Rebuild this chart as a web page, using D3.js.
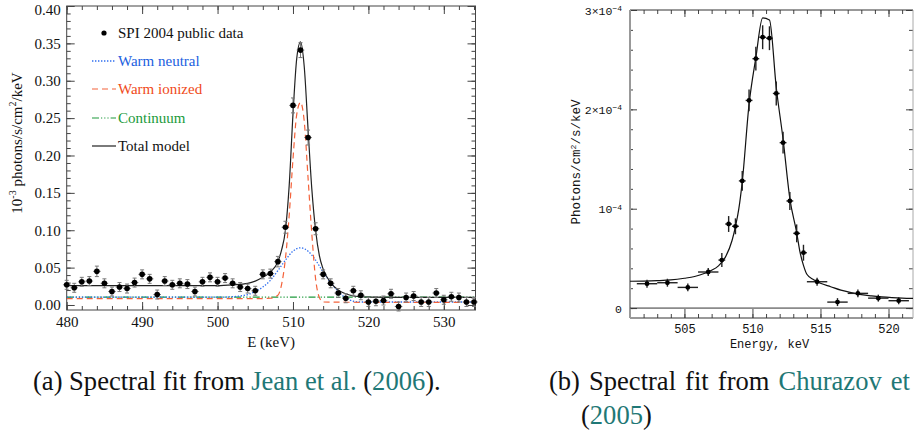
<!DOCTYPE html>
<html lang="en">
<head>
<meta charset="UTF-8">
<title>Spectral fits</title>
<script src="https://d3js.org/d3.v7.min.js"></script>
<style>
    body { margin: 0; background: #fff; }
    svg { display: block; }
    .serif text, text.serif { font-family: "Liberation Serif", "Times New Roman", serif; }
    .mono text, text.mono { font-family: "Liberation Mono", "Courier New", monospace; }
</style>
</head>
<body>
<svg width="914" height="434"></svg>
<script>
    // ---- panel (a): SPI 2004 public data (10^-3 photons/s/cm2/keV)
    const speE = [480, 481, 482, 483, 484, 485, 486, 487, 488, 489, 490, 491, 492, 493, 494, 495, 496, 497, 498, 499,
        500, 501, 502, 503, 504, 505, 506, 507, 508, 509, 510, 511, 512, 513, 514, 515, 516, 517, 518, 519,
        520, 521, 522, 523, 524, 525, 526, 527, 528, 529, 530, 531, 532, 533, 534];
    const speFlux = [0.027, 0.023, 0.031, 0.032, 0.045, 0.029, 0.018, 0.024, 0.022, 0.030, 0.041, 0.035, 0.014, 0.032, 0.027, 0.029, 0.028, 0.018, 0.031, 0.037,
        0.031, 0.036, 0.029, 0.024, 0.022, 0.019, 0.041, 0.042, 0.058, 0.104, 0.267, 0.341, 0.224, 0.102, 0.041, 0.029, 0.016, 0.009, 0.019, 0.013,
        0.004, 0.005, 0.006, 0.015, -0.002, 0.010, 0.012, 0.004, 0.004, 0.016, 0.007, 0.011, 0.010, 0.004, 0.004];
    const speErr = [0.006, 0.006, 0.006, 0.006, 0.007, 0.006, 0.006, 0.006, 0.006, 0.006, 0.006, 0.006, 0.006, 0.006, 0.006, 0.006, 0.006, 0.006, 0.006, 0.006,
        0.006, 0.006, 0.006, 0.006, 0.006, 0.006, 0.006, 0.006, 0.007, 0.008, 0.010, 0.010, 0.010, 0.008, 0.006, 0.006, 0.006, 0.006, 0.006, 0.006,
        0.006, 0.006, 0.006, 0.006, 0.006, 0.006, 0.006, 0.006, 0.006, 0.006, 0.006, 0.006, 0.006, 0.006, 0.006];

    // model components
    const totalE = [480, 490, 500, 502, 504, 505, 506, 507, 508, 508.5, 509, 509.5, 510, 510.5, 511, 511.5, 512, 512.5, 513, 513.5, 514, 515, 516, 517, 518, 519, 520, 525, 534.2];
    const totalV = [0.026, 0.026, 0.026, 0.027, 0.029, 0.032, 0.037, 0.044, 0.058, 0.074, 0.100, 0.160, 0.255, 0.330, 0.352, 0.318, 0.235, 0.155, 0.100, 0.066, 0.048, 0.030, 0.020, 0.015, 0.012, 0.011, 0.0105, 0.0102, 0.0102];
    const neutralE = [480, 500, 502, 503, 504, 505, 506, 507, 508, 509, 510, 511, 512, 513, 514, 515, 516, 517, 518, 519, 534.2];
    const neutralV = [0.0105, 0.0105, 0.011, 0.012, 0.014, 0.018, 0.024, 0.033, 0.046, 0.060, 0.072, 0.0765, 0.072, 0.060, 0.044, 0.030, 0.018, 0.0095, 0.005, 0.004, 0.004];
    const ionizedE = [480, 505, 507, 508, 508.5, 509, 509.5, 510, 510.5, 511, 511.5, 512, 512.5, 513, 513.5, 514, 520, 534.2];
    const ionizedV = [0.0085, 0.0085, 0.009, 0.013, 0.028, 0.062, 0.120, 0.195, 0.255, 0.271, 0.245, 0.170, 0.095, 0.035, 0.010, 0.004, 0.0036, 0.0036];
    const contE = [480, 534.2];
    const contV = [0.0105, 0.0105];

    const legendItems = ["SPI 2004 public data", "Warm neutral", "Warm ionized", "Continuum", "Total model"];
    const leftXTicks = [480, 490, 500, 510, 520, 530];
    const leftYTicks = [0, 0.05, 0.10, 0.15, 0.20, 0.25, 0.30, 0.35, 0.40];

    // ---- panel (b): Churazov et al. (units of 1e-4 photons/cm2/s/keV)
    const chE = [502.25, 503.75, 505.25, 506.75, 507.75, 508.25, 508.75, 509.25, 509.75, 510.25, 510.75, 511.25,
        511.75, 512.25, 512.75, 513.25, 513.75, 514.75, 516.25, 517.75, 519.25, 520.75];
    const chHalfW = [0.75, 0.75, 0.75, 0.75, 0.25, 0.25, 0.25, 0.25, 0.25, 0.25, 0.25, 0.25,
        0.25, 0.25, 0.25, 0.25, 0.25, 0.75, 0.75, 0.75, 0.75, 0.75];
    const chFlux = [0.245, 0.255, 0.208, 0.363, 0.483, 0.846, 0.823, 1.28, 2.09, 2.51, 2.726, 2.716,
        2.16, 1.665, 1.078, 0.752, 0.557, 0.265, 0.06, 0.148, 0.10, 0.074];
    const chErr = [0.04, 0.04, 0.04, 0.04, 0.07, 0.08, 0.08, 0.10, 0.11, 0.12, 0.12, 0.12,
        0.12, 0.11, 0.09, 0.09, 0.08, 0.04, 0.04, 0.04, 0.035, 0.035];
    const chModelE = [501, 502, 503, 504, 505, 505.75, 506.5, 507, 507.5, 508, 508.5, 508.75, 509, 509.25, 509.75, 510.25, 510.75,
        511.25, 511.75, 512.25, 512.75, 513.25, 513.5, 513.75, 514, 514.5, 515, 515.75, 516.5, 517.25, 518, 518.75, 519.5, 520.25, 521, 521.8];
    const chModelV = [0.27, 0.272, 0.276, 0.283, 0.30, 0.318, 0.35, 0.38, 0.425, 0.51, 0.68, 0.82, 1.0, 1.27, 2.05, 2.52, 2.92,
        2.90, 2.22, 1.70, 1.10, 0.76, 0.56, 0.43, 0.34, 0.285, 0.25, 0.215, 0.18, 0.155, 0.135, 0.122, 0.112, 0.105, 0.10, 0.097];
    const rightXTicks = [505, 510, 515, 520];
    const rightYTicks = [0, 1, 2, 3];

    const svg = d3.select("svg");
    const zip = (a, b) => a.map((d, i) => [d, b[i]]);

    // =========================== panel (a)
    const L = { x0: 66.7, x1: 475.5, y0: 6, y1: 310 };
    const xL = d3.scaleLinear().domain([480, 534.2]).range([L.x0, L.x1]);
    const yL = d3.scaleLinear().domain([-0.0067, 0.40]).range([L.y1, L.y0]);

    const gA = svg.append("g").attr("class", "serif");

    function tickAxis(g, axis) {
        g.call(axis);
        g.select(".domain").remove();
        g.selectAll(".tick line").attr("stroke", "#444");
        g.selectAll("text").attr("fill", "#111");
    }
    const minorX = d3.range(480, 535, 2);
    const minorY = d3.range(0, 0.401, 0.01);

    gA.append("g").attr("transform", `translate(0,${L.y1})`)
        .call(g => tickAxis(g, d3.axisBottom(xL).tickValues(minorX).tickSize(-4).tickFormat("")));
    gA.append("g").attr("transform", `translate(0,${L.y1})`)
        .call(g => tickAxis(g, d3.axisBottom(xL).tickValues(leftXTicks).tickSize(-8).tickPadding(6).tickFormat(d3.format("d"))))
        .selectAll("text").style("font-size", "15px");
    gA.append("g").attr("transform", `translate(0,${L.y0})`)
        .call(g => tickAxis(g, d3.axisTop(xL).tickValues(minorX).tickSize(-4).tickFormat("")));
    gA.append("g").attr("transform", `translate(0,${L.y0})`)
        .call(g => tickAxis(g, d3.axisTop(xL).tickValues(leftXTicks).tickSize(-8).tickFormat("")));
    gA.append("g").attr("transform", `translate(${L.x0},0)`)
        .call(g => tickAxis(g, d3.axisLeft(yL).tickValues(minorY).tickSize(-4).tickFormat("")));
    gA.append("g").attr("transform", `translate(${L.x0},0)`)
        .call(g => tickAxis(g, d3.axisLeft(yL).tickValues(leftYTicks).tickSize(-8).tickPadding(6).tickFormat(d3.format(".2f"))))
        .selectAll("text").style("font-size", "15px")
        .attr("dy", d => d === 0.40 ? "0.55em" : "0.32em");
    gA.append("g").attr("transform", `translate(${L.x1},0)`)
        .call(g => tickAxis(g, d3.axisRight(yL).tickValues(minorY).tickSize(-4).tickFormat("")));
    gA.append("g").attr("transform", `translate(${L.x1},0)`)
        .call(g => tickAxis(g, d3.axisRight(yL).tickValues(leftYTicks).tickSize(-8).tickFormat("")));

    gA.append("rect").attr("x", L.x0).attr("y", L.y0).attr("width", L.x1 - L.x0).attr("height", L.y1 - L.y0)
        .attr("fill", "none").attr("stroke", "#444").attr("stroke-width", 1);

    gA.append("clipPath").attr("id", "clipA").append("rect")
        .attr("x", L.x0).attr("y", L.y0).attr("width", L.x1 - L.x0).attr("height", L.y1 - L.y0);

    const lineL = d3.line().x(d => xL(d[0])).y(d => yL(d[1])).curve(d3.curveMonotoneX);
    const models = [
        { e: contE, v: contV, color: "#1f9a3c", dash: "7,2,1.2,2,1.2,2,1.2,2", w: 1.1 },
        { e: neutralE, v: neutralV, color: "#2f6ff0", dash: "1.4,1.6", w: 1.3 },
        { e: ionizedE, v: ionizedV, color: "#f4623a", dash: "6,4", w: 1.2 },
        { e: totalE, v: totalV, color: "#222", dash: null, w: 1.2 }
    ];
    gA.append("g").attr("clip-path", "url(#clipA)").selectAll("path")
        .data(models).join("path")
        .attr("d", d => lineL(zip(d.e, d.v)))
        .attr("fill", "none").attr("stroke", d => d.color)
        .attr("stroke-width", d => d.w).attr("stroke-dasharray", d => d.dash);

    const pts = speE.map((e, i) => ({ e, v: speFlux[i], err: speErr[i] }));
    const eb = gA.append("g").attr("stroke", "#777").attr("stroke-width", 1);
    eb.selectAll(".h").data(pts).join("line").attr("class", "h")
        .attr("x1", d => xL(d.e - 0.5)).attr("x2", d => xL(d.e + 0.5))
        .attr("y1", d => yL(d.v)).attr("y2", d => yL(d.v));
    eb.selectAll(".v").data(pts).join("line").attr("class", "v")
        .attr("x1", d => xL(d.e)).attr("x2", d => xL(d.e))
        .attr("y1", d => yL(d.v - d.err)).attr("y2", d => yL(d.v + d.err));
    eb.selectAll(".c1").data(pts).join("line").attr("class", "c1")
        .attr("x1", d => xL(d.e) - 2).attr("x2", d => xL(d.e) + 2)
        .attr("y1", d => yL(d.v + d.err)).attr("y2", d => yL(d.v + d.err));
    eb.selectAll(".c2").data(pts).join("line").attr("class", "c2")
        .attr("x1", d => xL(d.e) - 2).attr("x2", d => xL(d.e) + 2)
        .attr("y1", d => yL(d.v - d.err)).attr("y2", d => yL(d.v - d.err));
    gA.append("g").selectAll("circle").data(pts).join("circle")
        .attr("cx", d => xL(d.e)).attr("cy", d => yL(d.v)).attr("r", 2.8).attr("fill", "#000");

    // legend
    const legColors = ["#111", "#2060e0", "#f04a20", "#1a9a3a", "#111"];
    const legModel = [null, models[1], models[2], models[0], models[3]];
    const legend = gA.append("g");
    const legY = [33, 61, 89, 118, 146];
    legendItems.forEach((name, i) => {
        if (i === 0) {
            legend.append("circle").attr("cx", 104).attr("cy", legY[i]).attr("r", 2.6).attr("fill", "#000");
        } else {
            const mm = legModel[i];
            legend.append("line").attr("x1", 92).attr("x2", 116).attr("y1", legY[i]).attr("y2", legY[i])
                .attr("stroke", mm.color).attr("stroke-width", mm.w).attr("stroke-dasharray", mm.dash);
        }
        legend.append("text").attr("x", 118).attr("y", legY[i] + 5).style("font-size", "15px")
            .attr("fill", legColors[i]).text(name);
    });

    // axis titles
    gA.append("text").attr("x", (L.x0 + L.x1) / 2).attr("y", 347).attr("text-anchor", "middle")
        .style("font-size", "15px").attr("fill", "#111").text("E (keV)");
    const ylab = gA.append("text").attr("transform", "translate(22,143) rotate(-90)")
        .attr("text-anchor", "middle").style("font-size", "15px").attr("fill", "#111");
    ylab.append("tspan").text("10");
    ylab.append("tspan").attr("dy", -6).style("font-size", "10px").text("-3");
    ylab.append("tspan").attr("dy", 6).text(" photons/s/cm");
    ylab.append("tspan").attr("dy", -6).style("font-size", "10px").text("2");
    ylab.append("tspan").attr("dy", 6).text("/keV");

    // =========================== panel (b)
    const R = { x0: 630, x1: 913, y0: 10, y1: 318 };
    const xR = d3.scaleLinear().domain([501, 521.8]).range([R.x0, R.x1]);
    const yR = d3.scaleLinear().domain([-0.1, 3.0]).range([R.y1, R.y0]);
    const gB = svg.append("g").attr("class", "mono");

    const minorXR = d3.range(502, 522, 1);
    const minorYR = d3.range(0, 3.01, 0.2);
    gB.append("g").attr("transform", `translate(0,${R.y1})`)
        .call(g => tickAxis(g, d3.axisBottom(xR).tickValues(minorXR).tickSize(-4).tickFormat("")));
    gB.append("g").attr("transform", `translate(0,${R.y1})`)
        .call(g => tickAxis(g, d3.axisBottom(xR).tickValues(rightXTicks).tickSize(-9).tickPadding(6).tickFormat(d3.format("d"))))
        .selectAll("text").style("font-size", "12px");
    gB.append("g").attr("transform", `translate(0,${R.y0})`)
        .call(g => tickAxis(g, d3.axisTop(xR).tickValues(minorXR).tickSize(-4).tickFormat("")));
    gB.append("g").attr("transform", `translate(0,${R.y0})`)
        .call(g => tickAxis(g, d3.axisTop(xR).tickValues(rightXTicks).tickSize(-7).tickFormat("")));
    gB.append("g").attr("transform", `translate(${R.x0},0)`)
        .call(g => tickAxis(g, d3.axisLeft(yR).tickValues(minorYR).tickSize(-3).tickFormat("")));
    const yAxR = gB.append("g").attr("transform", `translate(${R.x0},0)`)
        .call(g => tickAxis(g, d3.axisLeft(yR).tickValues(rightYTicks).tickSize(-7).tickPadding(8).tickFormat("")));
    yAxR.selectAll(".tick text").each(function (d) {
        const t = d3.select(this).style("font-size", "11.5px").attr("dy", "0.35em");
        if (d === 0) { t.text("0"); return; }
        if (d !== 1) t.append("tspan").text(d + "\u00d7");
        t.append("tspan").text("10");
        t.append("tspan").attr("dy", "-0.45em").style("font-size", "8px").text("\u2212" + "4");
    });
    gB.append("g").attr("transform", `translate(${R.x1},0)`)
        .call(g => tickAxis(g, d3.axisRight(yR).tickValues(minorYR).tickSize(-4).tickFormat("")));
    gB.append("g").attr("transform", `translate(${R.x1},0)`)
        .call(g => tickAxis(g, d3.axisRight(yR).tickValues(rightYTicks).tickSize(-7).tickFormat("")));

    // frame
    gB.append("line").attr("x1", R.x0).attr("x2", R.x1).attr("y1", R.y0).attr("y2", R.y0).attr("stroke", "#333");
    gB.append("line").attr("x1", R.x0).attr("x2", R.x1).attr("y1", R.y1).attr("y2", R.y1).attr("stroke", "#333");
    gB.append("line").attr("x1", R.x1).attr("x2", R.x1).attr("y1", R.y0).attr("y2", R.y1).attr("stroke", "#aaa");
    gB.append("line").attr("x1", R.x0).attr("x2", R.x0).attr("y1", R.y0).attr("y2", R.y1).attr("stroke", "#999").attr("stroke-width", 2);
    gB.append("line").attr("x1", R.x0).attr("x2", R.x1).attr("y1", yR(0)).attr("y2", yR(0)).attr("stroke", "#333");

    const lineR = d3.line().x(d => xR(d[0])).y(d => yR(d[1])).curve(d3.curveMonotoneX);
    gB.append("path").attr("d", lineR(zip(chModelE, chModelV)))
        .attr("fill", "none").attr("stroke", "#111").attr("stroke-width", 1.2);

    const cp = chE.map((e, i) => ({ e, hw: chHalfW[i], v: chFlux[i], err: chErr[i] }));
    const ebR = gB.append("g").attr("stroke", "#222").attr("stroke-width", 1.4);
    ebR.selectAll(".h").data(cp).join("line").attr("class", "h")
        .attr("x1", d => xR(d.e - d.hw)).attr("x2", d => xR(d.e + d.hw))
        .attr("y1", d => yR(d.v)).attr("y2", d => yR(d.v));
    ebR.selectAll(".v").data(cp).join("line").attr("class", "v")
        .attr("x1", d => xR(d.e)).attr("x2", d => xR(d.e))
        .attr("y1", d => yR(d.v - d.err)).attr("y2", d => yR(d.v + d.err));
    gB.append("g").selectAll("circle").data(cp).join("circle")
        .attr("cx", d => xR(d.e)).attr("cy", d => yR(d.v)).attr("r", 2.4).attr("fill", "#000");

    gB.append("text").attr("x", (R.x0 + R.x1) / 2 - 2).attr("y", 348).attr("text-anchor", "middle")
        .style("font-size", "12px").attr("fill", "#111").text("Energy, keV");
    const ylabR = gB.append("text").attr("transform", "translate(580,162) rotate(-90)")
        .attr("text-anchor", "middle").style("font-size", "12.5px").attr("fill", "#111");
    ylabR.append("tspan").text("Photons/cm");
    ylabR.append("tspan").attr("dy", -4).style("font-size", "8px").text("2");
    ylabR.append("tspan").attr("dy", 4).text("/s/keV");

    // =========================== captions (narrow serif: scaled horizontally)
    const teal = "#1f7876";
    const cap = svg.append("g").attr("class", "serif").style("font-size", "27px").attr("fill", "#111");
    const capAg = cap.append("g");
    const capA = capAg.append("text").attr("x", 0).attr("y", 0);
    capA.append("tspan").text("(a) Spectral fit from ");
    capA.append("tspan").attr("fill", teal).text("Jean et al.");
    capA.append("tspan").text(" (");
    capA.append("tspan").attr("fill", teal).text("2006");
    capA.append("tspan").text(").");
    const sx = 408 / capA.node().getComputedTextLength();
    capAg.attr("transform", `translate(33,390) scale(${sx},1)`);

    // justified first line of caption (b), from x=549 to x=910
    const wordsB = [["(b)", "#111"], ["Spectral", "#111"], ["fit", "#111"], ["from", "#111"], ["Churazov", teal], ["et", teal]];
    const wg = wordsB.map(([w, c]) => {
        const g = cap.append("g");
        const t = g.append("text").attr("fill", c).text(w);
        return { g, w: t.node().getComputedTextLength() * sx };
    });
    const gap = (910 - 549 - d3.sum(wg, d => d.w)) / (wg.length - 1);
    let xpos = 549;
    wg.forEach(d => {
        d.g.attr("transform", `translate(${xpos},390) scale(${sx},1)`);
        xpos += d.w + gap;
    });
    const capB2 = cap.append("g").attr("transform", `translate(581,424) scale(${sx},1)`).append("text");
    capB2.append("tspan").text("(");
    capB2.append("tspan").attr("fill", teal).text("2005");
    capB2.append("tspan").text(")");
</script>
</body>
</html>
